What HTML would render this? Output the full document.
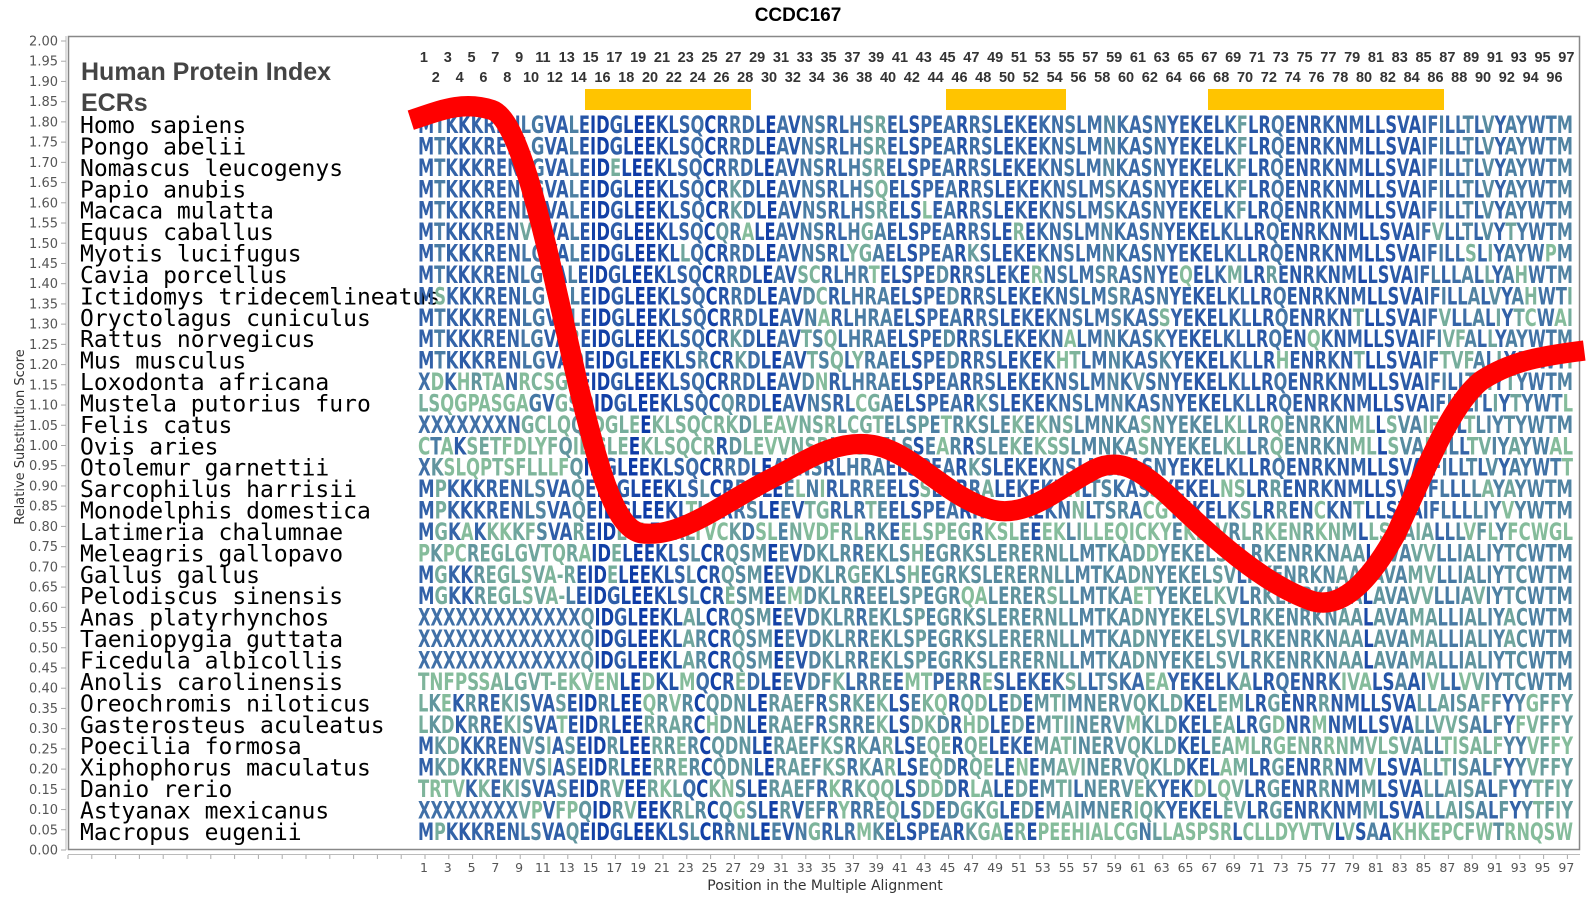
<!DOCTYPE html>
<html><head><meta charset="utf-8"><style>
html,body{margin:0;padding:0;background:#fff;}
svg{display:block;}
.yl{font:13px "DejaVu Sans","Liberation Sans",sans-serif;fill:#555;text-anchor:end;}
.xl{font:12.5px "DejaVu Sans","Liberation Sans",sans-serif;fill:#555;text-anchor:middle;}
.hn{font:bold 14.5px "Liberation Sans",sans-serif;fill:#333;text-anchor:middle;}
.nm{font:23px "DejaVu Sans Mono","Liberation Mono",monospace;fill:#000;}
.sq{font:bold 24px "DejaVu Sans","Liberation Sans",sans-serif;fill:#1d4aa5;}
</style></head><body>
<svg id="s" width="1592" height="900" viewBox="0 0 1592 900" xmlns="http://www.w3.org/2000/svg">
<text x="798" y="21" style="font:bold 19px 'Liberation Sans',sans-serif;text-anchor:middle">CCDC167</text>
<rect x="68.5" y="36.5" width="1511" height="813" fill="none" stroke="#888" stroke-width="1.5"/>
<line x1="66" y1="36" x2="66" y2="850" stroke="#bbb"/>
<g id="yt"></g>
<line x1="68" y1="854.5" x2="1580" y2="854.5" stroke="#bbb"/>
<g id="xt"></g>
<text transform="translate(24,437) rotate(-90)" style="font:13px 'DejaVu Sans','Liberation Sans',sans-serif;fill:#333;text-anchor:middle">Relative Substitution Score</text>
<text x="825" y="890" style="font:14px 'DejaVu Sans','Liberation Sans',sans-serif;fill:#333;text-anchor:middle">Position in the Multiple Alignment</text>
<text x="81" y="80" style="font:bold 25px 'Liberation Sans',sans-serif;fill:#444">Human Protein Index</text>
<text x="81" y="111" style="font:bold 25px 'Liberation Sans',sans-serif;fill:#444">ECRs</text>
<g id="hn"></g>
<rect x="585" y="89" width="166" height="21" fill="#ffc400"/>
<rect x="946" y="89" width="120" height="21" fill="#ffc400"/>
<rect x="1208" y="89" width="236" height="21" fill="#ffc400"/>
<g id="names">
<text class="nm" x="80">Homo sapiens</text>
<text class="nm" x="80">Pongo abelii</text>
<text class="nm" x="80">Nomascus leucogenys</text>
<text class="nm" x="80">Papio anubis</text>
<text class="nm" x="80">Macaca mulatta</text>
<text class="nm" x="80">Equus caballus</text>
<text class="nm" x="80">Myotis lucifugus</text>
<text class="nm" x="80">Cavia porcellus</text>
<text class="nm" x="80">Ictidomys tridecemlineatus</text>
<text class="nm" x="80">Oryctolagus cuniculus</text>
<text class="nm" x="80">Rattus norvegicus</text>
<text class="nm" x="80">Mus musculus</text>
<text class="nm" x="80">Loxodonta africana</text>
<text class="nm" x="80">Mustela putorius furo</text>
<text class="nm" x="80">Felis catus</text>
<text class="nm" x="80">Ovis aries</text>
<text class="nm" x="80">Otolemur garnettii</text>
<text class="nm" x="80">Sarcophilus harrisii</text>
<text class="nm" x="80">Monodelphis domestica</text>
<text class="nm" x="80">Latimeria chalumnae</text>
<text class="nm" x="80">Meleagris gallopavo</text>
<text class="nm" x="80">Gallus gallus</text>
<text class="nm" x="80">Pelodiscus sinensis</text>
<text class="nm" x="80">Anas platyrhynchos</text>
<text class="nm" x="80">Taeniopygia guttata</text>
<text class="nm" x="80">Ficedula albicollis</text>
<text class="nm" x="80">Anolis carolinensis</text>
<text class="nm" x="80">Oreochromis niloticus</text>
<text class="nm" x="80">Gasterosteus aculeatus</text>
<text class="nm" x="80">Poecilia formosa</text>
<text class="nm" x="80">Xiphophorus maculatus</text>
<text class="nm" x="80">Danio rerio</text>
<text class="nm" x="80">Astyanax mexicanus</text>
<text class="nm" x="80">Macropus eugenii</text>
</g>
<g id="seqs">
<text class="sq">MTKKKRENLGVALEIDGLEEKLSQCRRDLEAVNSRLHSRELSPEARRSLEKEKNSLMNKASNYEKELKFLRQENRKNMLLSVAIFILLTLVYAYWTM</text>
<text class="sq">MTKKKRENLGVALEIDGLEEKLSQCRRDLEAVNSRLHSRELSPEARRSLEKEKNSLMNKASNYEKELKFLRQENRKNMLLSVAIFILLTLVYAYWTM</text>
<text class="sq">MTKKKRENLGVALEIDELEEKLSQCRRDLEAVNSRLHSRELSPEARRSLEKEKNSLMNKASNYEKELKFLRQENRKNMLLSVAIFILLTLVYAYWTM</text>
<text class="sq">MTKKKRENLGVALEIDGLEEKLSQCRKDLEAVNSRLHSQELSPEARRSLEKEKNSLMSKASNYEKELKFLRQENRKNMLLSVAIFILLTLVYAYWTM</text>
<text class="sq">MTKKKRENLGVALEIDGLEEKLSQCRKDLEAVNSRLHSRELSLEARRSLEKEKNSLMSKASNYEKELKFLRQENRKNMLLSVAIFILLTLVYAYWTM</text>
<text class="sq">MTKKKRENVGVALEIDGLEEKLSQCQRALEAVNSRLHGAELSPEARRSLEREKNSLMNKASNYEKELKLLRQENRKNMLLSVAIFVLLTLVYTYWTM</text>
<text class="sq">MTKKKRENLGVALEIDGLEEKLLQCRRDLEAVNSRLYGAELSPEARKSLEKEKNSLMNKASNYEKELKLLRQENRKNMLLSVAIFILLSLIYAYWPM</text>
<text class="sq">MTKKKRENLGVALEIDGLEEKLSQCRRDLEAVSCRLHRTELSPEDRRSLEKERNSLMSRASNYEQELKMLRRENRKNMLLSVAIFLLLALLYAHWTM</text>
<text class="sq">MSKKKRENLGVALEIDGLEEKLSQCRRDLEAVDCRLHRAELSPEDRRSLEKEKNSLMSRASNYEKELKLLRQENRKNMLLSVAIFILLALVYAHWTI</text>
<text class="sq">MTKKKRENLGVALEIDGLEEKLSQCRRDLEAVNARLHRAELSPEARRSLEKEKNSLMSKASSYEKELKLLRQENRKNTLLSVAIFVLLALIYTCWAI</text>
<text class="sq">MTKKKRENLGVAREIDGLEEKLSQCRKDLEAVTSQLHRAELSPEDRRSLEKEKNALMNKASKYEKELKLLRQENQKNMLLSVAIFIVFALLYAYWTM</text>
<text class="sq">MTKKKRENLGVAQEIDGLEEKLSRCRKDLEAVTSQLYRAELSPEDRRSLEKEKHTLMNKASKYEKELKLLRHENRKNTLLSVAIFTVFALLYAYWTI</text>
<text class="sq">XDKHRTANRCSGEEIDGLEEKLSQCRRDLEAVDNRLHRAELSPEARRSLEKEKNSLMNKVSNYEKELKLLRQENRKNMLLSVAIFILLTLIYTYWTM</text>
<text class="sq">LSQGPASGAGVGSQIDGLEEKLSQCQRDLEAVNSRLCGAELSPEARKSLEKEKNSLMNKASNYEKELKLLRQENRKNMLLSVAIFILLTLIYTYWTL</text>
<text class="sq">XXXXXXXNGCLQQIDGLEEKLSQCRKDLEAVNSRLCGTELSPETRKSLEKEKNSLMNKASNYEKELKLLRQENRKNMLLSVAIFILLTLIYTYWTM</text>
<text class="sq">CTAKSETFDLYFQIDGLEEKLSQCRRDLEVVNSRLCGAELSSEARRSLEKEKSSLMNKASNYEKELKLLRQENRKNMLLSVAIFILLTVIYAYWAL</text>
<text class="sq">XKSLQPTSFLLLFQIDGLEEKLSQCRRDLEAVNSRLHRAELSPEARKSLEKEKNSLMSKASNYEKELKLLRQENRKNMLLSVAIFILLTLVYAYWTT</text>
<text class="sq">MPKKKRENLSVAQEIDGLEEKLSLCRRNLEELNIRLRREELSSEARRALEKEKNNLTSKASSYEKELNSLRRENRKNMLLSVAIFLLLLAYAYWTM</text>
<text class="sq">MPKKKRENLSVAQEIDGLEEKLTLCRRSLEEVTGRLRTEELSPEARRALEKEKNNLTSRACGYEKELKSLRRENCKNTLLSVAIFLLLLIYVYWTM</text>
<text class="sq">MGKAKKKKFSVAREIDLCLEERLTVCKDSLENVDFRLRKEELSPEGRKSLEEEKLILLEQICKYEKELVRLRKENRKNMLLSVAIALLLVFLYFCWGL</text>
<text class="sq">PKPCREGLGVTQRAIDELEEKLSLCRQSMEEVDKLRREKLSHEGRKSLERERNLLMTKADDYEKELSVLRKENRKNAALAVAVVLLIALIYTCWTM</text>
<text class="sq">MGKKREGLSVA-REIDELEEKLSLCRQSMEEVDKLRGEKLSHEGRKSLERERNLLMTKADNYEKELSVLRKENRKNAALAVAMVLLIALIYTCWTM</text>
<text class="sq">MGKKREGLSVA-LEIDGLEEKLSLCRESMEEMDKLRREELSPEGRQALERERSLLMTKAETYEKELKVLRKENRKNTALAVAVVLLIAVIYTCWTM</text>
<text class="sq">XXXXXXXXXXXXXQIDGLEEKLALCRQSMEEVDKLRREKLSPEGRKSLERERNLLMTKADNYEKELSVLRKENRKNAALAVAMALLIALIYACWTM</text>
<text class="sq">XXXXXXXXXXXXXQIDGLEEKLARCRQSMEEVDKLRREKLSPEGRKSLERERNLLMTKADNYEKELSVLRKENRKNAALAVAMALLIALIYACWTM</text>
<text class="sq">XXXXXXXXXXXXXQIDGLEEKLARCRQSMEEVDKLRREKLSPEGRKSLERERNLLMTKADNYEKELSVLRKENRKNAALAVAMALLIALIYTCWTM</text>
<text class="sq">TNFPSSALGVT-EKVENLEDKLMQCREDLEEVDFKLRREEMTPERRESLEKEKSLLTSKAEAYEKELKALRQENRKIVALSAAIVLLVVIYTCWTM</text>
<text class="sq">LKEKRREKISVASEIDRLEEQRVRCQDNLERAEFRSRKEKLSEKQRQDLEDEMTIMNERVQKLDKELEMLRGENRRNMLLSVALLAISAFFYYGFFY</text>
<text class="sq">LKDKRREKISVATEIDRLEERRARCHDNLERAEFRSRREKLSDKDRHDLEDEMTIINERVMKLDKELEALRGDNRMNMLLSVALLVVSALFYFVFFY</text>
<text class="sq">MKDKKRENVSIASEIDRLEERRERCQDNLERAEFKSRKARLSEQERQELEKEMATINERVQKLDKELEAMLRGENRRNMVLSVALLTISALFYYVFFY</text>
<text class="sq">MKDKKRENVSIASEIDRLEERRERCQDNLERAEFKSRKARLSEQDRQELENEMAVINERVQKLDKELAMLRGENRRNMVLSVALLTISALFYYVFFY</text>
<text class="sq">TRTVKKEKISVASEIDRVEERKLQCKNSLERAEFRKRKQQLSDDDRLALEDEMTILNERVEKYEKDLQVLRGENRRNMMLSVALLAISALFYYTFIY</text>
<text class="sq">XXXXXXXXVPVFPQIDRVEEKRLRCQGSLERVEFRYRREQLSDEDGKGLEDEMAIMNERIQKYEKELEVLRGENRKNMMLSVALLAISALFYYTFIY</text>
<text class="sq">MPKKKRENLSVAQEIDGLEEKLSLCRRNLEEVNGRLRMKELSPEARKGAEREPEEHIALCGNLLASPSRLCLLDYVTVLVSAAKHKEPCFWTRNQSW</text>
</g>
<g transform="matrix(1.016,0,0,1.015,-0.7,0.4)">
<path d="M405,118 C430,110 455,98 485,108 C515,118 540,250 570,380 C590,460 605,520 632,525 C672,530 712,495 762,470 C792,455 822,432 860,438 C900,445 932,490 978,502 C1013,510 1043,480 1078,462 C1103,450 1123,462 1153,490 C1193,528 1243,575 1293,592 C1323,600 1350,570 1375,525 C1405,460 1428,400 1458,375 C1488,355 1520,350 1560,345" fill="none" stroke="#ff0000" stroke-width="20"/>
</g>
</svg>
<script>
(function(){
var NS="http://www.w3.org/2000/svg";
function el(t,a,txt,p){var e=document.createElementNS(NS,t);for(var k in a)e.setAttribute(k,a[k]);if(txt!=null)e.textContent=txt;p.appendChild(e);return e;}
var yt=document.getElementById('yt');
for(var i=0;i<=40;i++){var y=850-i*20.225;el('line',{x1:61,y1:y,x2:66,y2:y,stroke:'#aaa'},null,yt);el('text',{'class':'yl',x:58,y:y+4.5},(i*0.05).toFixed(2),yt);}
var xt=document.getElementById('xt');
for(var x=68;x<=1580;x+=23.8){el('line',{x1:x,y1:855,x2:x,y2:859,stroke:'#aaa'},null,xt);}
var hn=document.getElementById('hn');
for(var k=1;k<=97;k++){var cx=418+(k-0.5)*11.9;
 el('text',{'class':'hn',x:cx,y:(k%2?62:82)},String(k),hn);
 if(k%2)el('text',{'class':'xl',x:cx,y:872},String(k),xt);}
var names=[].slice.call(document.querySelectorAll('#names text'));
names.forEach(function(n,i){n.setAttribute('y',(133+i*21.42).toFixed(1));});
var rows=[].slice.call(document.querySelectorAll('#seqs text'));
var strs=rows.map(function(r){return r.textContent;});
function mix(a,b,t){return a.map(function(v,i){return Math.round(v+(b[i]-v)*t);});}
var c1=[10,55,166],c2=[58,106,168],c3=[91,143,159],c4=[140,196,154];
function col(s){var c;if(s>=0.5)c=mix(c2,c1,(s-0.5)/0.5);else if(s>=0.2)c=mix(c3,c2,(s-0.2)/0.3);else c=mix(c4,c3,s/0.2);return 'rgb('+c.join(',')+')';}
rows.forEach(function(r,ri){var s=strs[ri];r.textContent='';
 r.setAttribute('y',(133+ri*21.42).toFixed(1));
 r.setAttribute('x',418);r.setAttribute('textLength',1155);r.setAttribute('lengthAdjust','spacingAndGlyphs');
 for(var j=0;j<s.length;j++){var ch=s[j],n=0;strs.forEach(function(o){if(o[j]===ch)n++;});
  var sc=n/strs.length; if(ch==='X')sc=0.45;
  el('tspan',{fill:col(sc)},ch,r);}
});
})();
</script>
</body></html>
